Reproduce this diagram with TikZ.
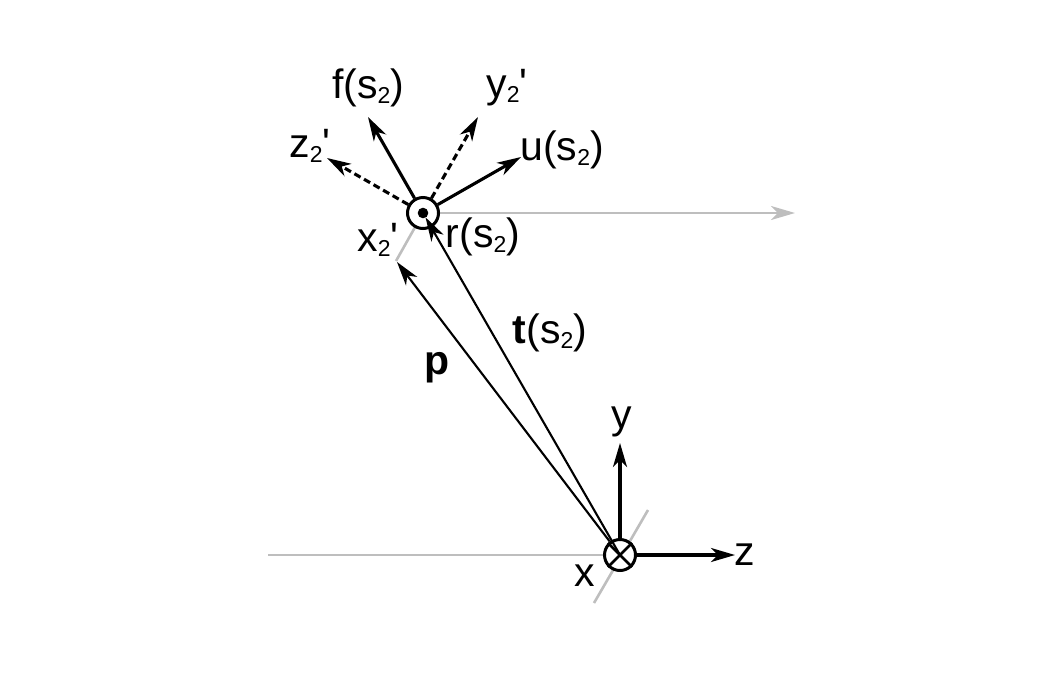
\documentclass[tikz,border=0pt]{standalone}
\usepackage{fontspec}
\setmainfont{Liberation Sans}
\usetikzlibrary{arrows.meta}
\newcommand{\sbs}[1]{\raisebox{-5pt}{\fontsize{23}{23}\selectfont #1}}
\definecolor{lgray}{RGB}{190,190,190}
\tikzset{
  lbl/.style={font=\fontsize{41}{43}\selectfont, inner sep=0pt},
  tip/.style={-{Stealth[length=24pt,width=14pt,inset=7pt]}},
  vec/.style={line width=3.1pt, tip},
  dvec/.style={vec, dash pattern=on 7pt off 4pt},
  thin/.style={line width=2.1pt},
  tvec/.style={thin, tip},
  grayline/.style={lgray, line width=2.6pt},
  ring/.style={circle, draw, line width=3pt, minimum size=31pt, inner sep=0pt, fill=white},
}
\begin{document}
\begin{tikzpicture}[x=1pt,y=-1pt]
\useasboundingbox (0,0) rectangle (1063,673);
% gray lines
\coordinate (gl) at (268,555);
\coordinate (gd1) at (594,603);
\coordinate (gd2) at (648,510);
\coordinate (ge) at (795,213);
\coordinate (gx) at (396,261);
\draw[grayline] (gl) -- (620,555);
\draw[grayline] (gd1) -- (gd2);
\draw[grayline] (423,213) -- (gx);
\draw[grayline, tip] (423,213) -- (ge);
% origin
\node[ring] (O) at (620,555) {};
\draw[line width=2.6pt] (O.45) -- (O.225);
\draw[line width=2.6pt] (O.135) -- (O.315);
% top frame
\node[ring] (T) at (423,213) {};
\fill (T.center) circle (5.3pt);
% axes at origin
\coordinate (ytip) at (620,443);
\coordinate (ztip) at (735,555);
\draw[vec] (O) -- (ytip);
\draw[vec] (O) -- (ztip);
% p and t
\coordinate (ptip) at (397,262);
\draw[tvec] (O) -- (ptip);
\draw[tvec, shorten >=5pt] (O.center) -- (T.center);
% local vectors
\coordinate (ftip) at (368,117);
\coordinate (ytwo) at (478,117);
\coordinate (utip) at (521,157);
\coordinate (ztwo) at (327,158);
\draw[vec] (T) -- (ftip);
\draw[vec] (T) -- (utip);
\draw[dvec] (T) -- (ytwo);
\draw[dvec] (T) -- (ztwo);
% labels
\node[lbl] (lf) at (368,88) {f(s\sbs{2})};
\node[lbl] (ly2) at (507,88) {y\sbs{2}\textquotesingle};
\node[lbl] (lu) at (562,150) {u(s\sbs{2})};
\node[lbl] (lz2) at (310,146) {z\sbs{2}\textquotesingle};
\node[lbl] (lx2) at (378,240) {x\sbs{2}\textquotesingle};
\node[lbl] (lr) at (483,237) {r(s\sbs{2})};
\node[lbl] (lt) at (550,333) {\textbf{t}(s\sbs{2})};
\node[lbl] (lp) at (437,368) {\textbf{p}};
\node[lbl] (ly) at (622,422) {y};
\node[lbl] (lz) at (745,555) {z};
\node[lbl] (lx) at (585,576) {x};
\end{tikzpicture}
\end{document}
